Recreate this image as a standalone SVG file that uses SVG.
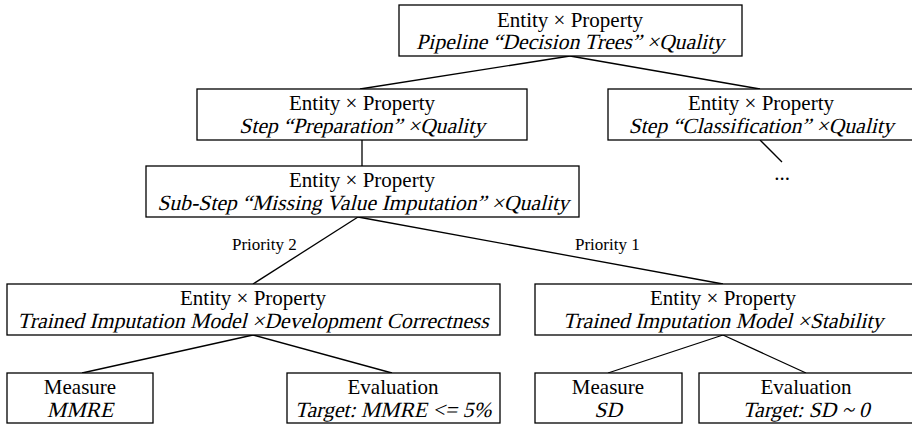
<svg xmlns="http://www.w3.org/2000/svg" width="912" height="425" viewBox="0 0 912 425">
  <style>
    .box { fill: #ffffff; stroke: #000000; stroke-width: 1.3; }
    .edge { stroke: #000000; stroke-width: 1.3; fill: none; }
    text { font-family: "Liberation Serif", "Times New Roman", serif; fill: #000000; text-anchor: middle; }
    .t { font-size: 21px; }
    /* slanted serif line: regular face sheared, anchored at its baseline */
    .it { font-size: 21.7px; }
    .lbl { font-size: 17px; text-anchor: start; }
  </style>
  <rect width="912" height="425" fill="#ffffff"/>

  <!-- tree edges -->
  <g id="connectors">
    <line class="edge" x1="570" y1="56" x2="360" y2="89"/>
    <line class="edge" x1="570" y1="56" x2="760" y2="89"/>
    <line class="edge" x1="362" y1="140" x2="362" y2="166"/>
    <line class="edge" x1="760" y1="140" x2="782" y2="162"/>
    <line class="edge" x1="358" y1="217" x2="253" y2="284"/>
    <line class="edge" x1="358" y1="217" x2="723" y2="284"/>
    <line class="edge" x1="253" y1="335" x2="82" y2="373"/>
    <line class="edge" x1="253" y1="335" x2="392" y2="373"/>
    <line class="edge" x1="723" y1="335" x2="608" y2="373"/>
    <line class="edge" x1="723" y1="335" x2="806" y2="373"/>
    <text class="lbl" x="232" y="250">Priority 2</text>
    <text class="lbl" x="575" y="250">Priority 1</text>
    <text class="t" x="782" y="180">...</text>
  </g>

  <g id="pipeline">
    <rect class="box" x="399" y="5" width="343" height="51"/>
    <text class="t" x="570" y="27">Entity × Property</text>
    <text class="it" transform="translate(570 49) skewX(-14)">Pipeline “Decision Trees” ×Quality</text>
  </g>

  <g id="step-preparation">
    <rect class="box" x="197" y="89" width="330" height="51"/>
    <text class="t" x="362" y="110">Entity × Property</text>
    <text class="it" transform="translate(362 133) skewX(-14)">Step “Preparation” ×Quality</text>
  </g>

  <g id="step-classification">
    <rect class="box" x="608" y="89" width="306" height="51"/>
    <text class="t" x="761" y="110">Entity × Property</text>
    <text class="it" transform="translate(761 133) skewX(-14)">Step “Classification” ×Quality</text>
  </g>

  <g id="substep-imputation">
    <rect class="box" x="146" y="166" width="433" height="51"/>
    <text class="t" x="362" y="187">Entity × Property</text>
    <text class="it" transform="translate(363 210) skewX(-14)">Sub-Step “Missing Value Imputation” ×Quality</text>
  </g>

  <g id="model-correctness">
    <rect class="box" x="7" y="284" width="493" height="51"/>
    <text class="t" x="253" y="305">Entity × Property</text>
    <text class="it" transform="translate(253 328) skewX(-14)">Trained Imputation Model ×Development Correctness</text>
  </g>

  <g id="model-stability">
    <rect class="box" x="535" y="284" width="379" height="51"/>
    <text class="t" x="723" y="305">Entity × Property</text>
    <text class="it" transform="translate(723 328) skewX(-14)">Trained Imputation Model ×Stability</text>
  </g>

  <g id="measure-mmre">
    <rect class="box" x="7" y="373" width="146" height="50"/>
    <text class="t" x="80" y="394">Measure</text>
    <text class="it" transform="translate(80 417) skewX(-14)">MMRE</text>
  </g>

  <g id="evaluation-mmre">
    <rect class="box" x="287" y="373" width="213" height="50"/>
    <text class="t" x="393" y="394">Evaluation</text>
    <text class="it" transform="translate(393 417) skewX(-14)">Target: MMRE &lt;= 5%</text>
  </g>

  <g id="measure-sd">
    <rect class="box" x="535" y="373" width="147" height="50"/>
    <text class="t" x="608" y="394">Measure</text>
    <text class="it" transform="translate(608 417) skewX(-14)">SD</text>
  </g>

  <g id="evaluation-sd">
    <rect class="box" x="699" y="373" width="215" height="50"/>
    <text class="t" x="806" y="394">Evaluation</text>
    <text class="it" transform="translate(806 417) skewX(-14)">Target: SD ~ 0</text>
  </g>
</svg>
